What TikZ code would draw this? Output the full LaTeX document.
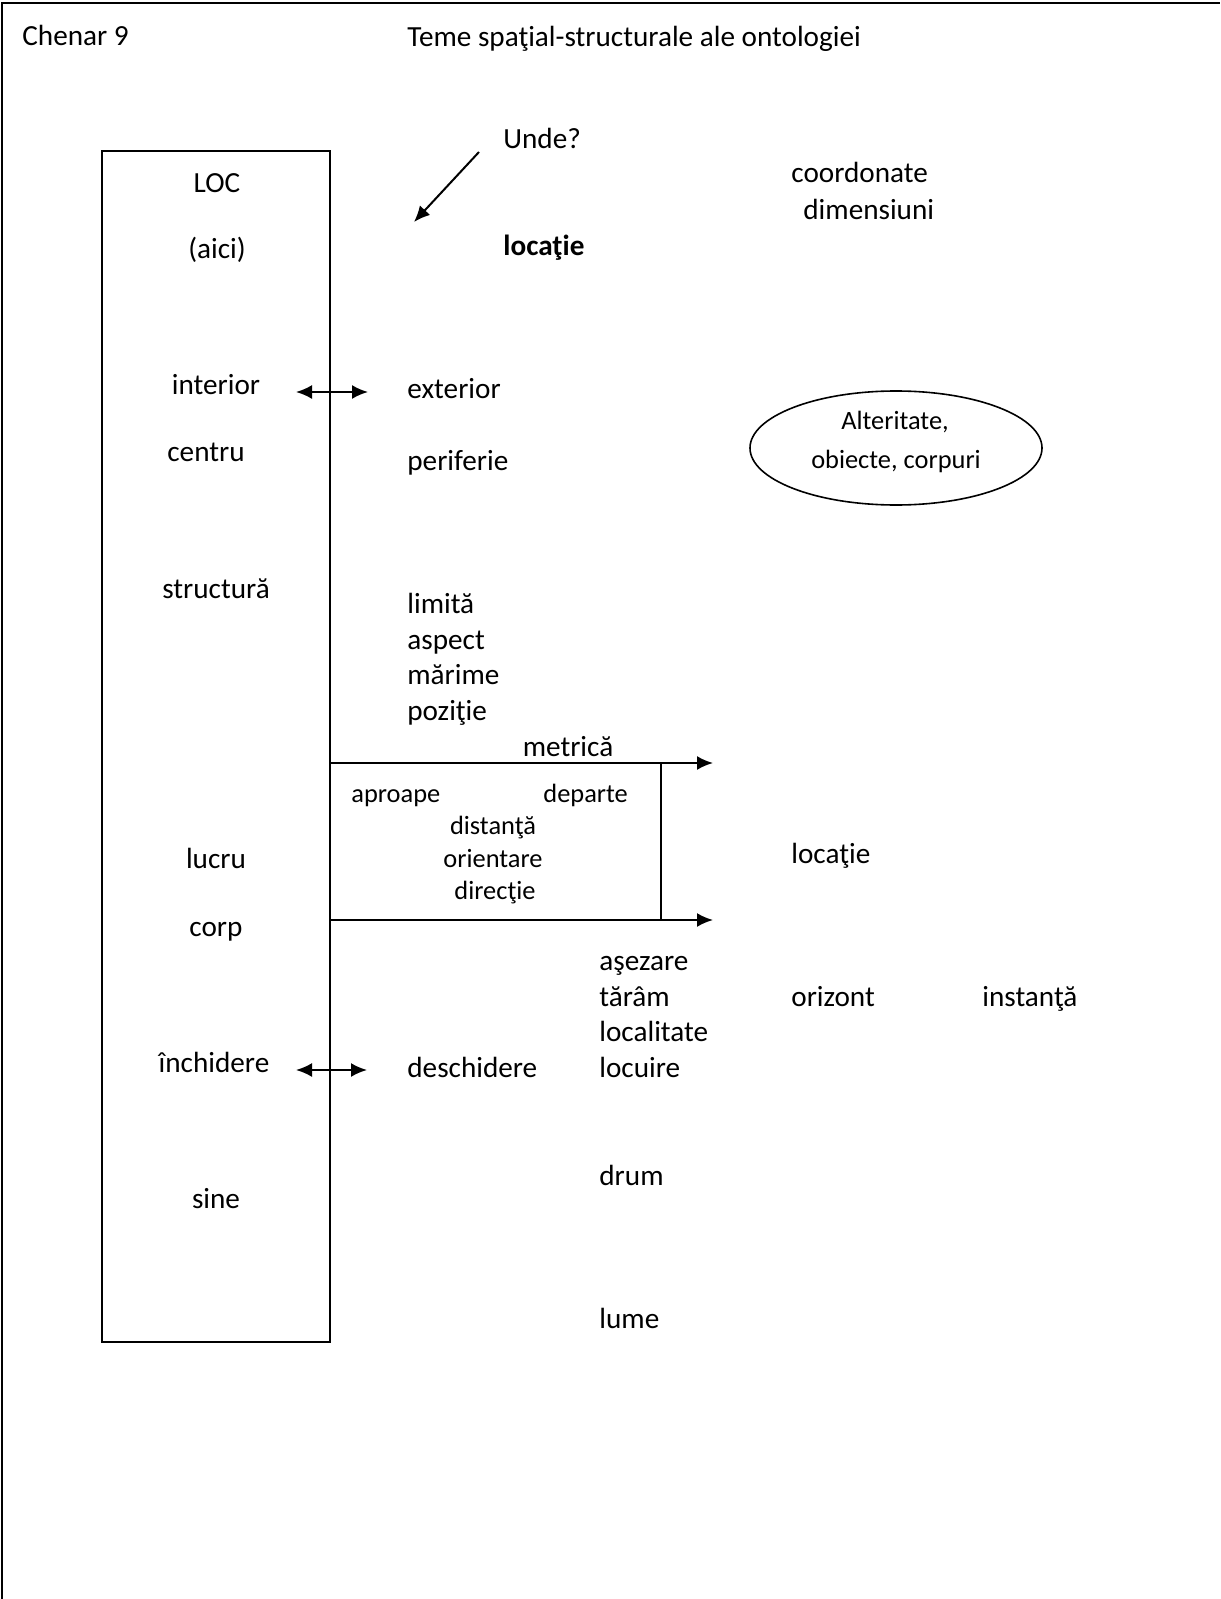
\documentclass[tikz,border=0pt]{standalone}
\usepackage{fontspec}
\setmainfont{Carlito}
\usetikzlibrary{arrows.meta,shapes.geometric}

\tikzset{
  word/.style={inner sep=0pt,text height=0.95em,text depth=0pt,font=\fontsize{14.6}{17}\selectfont},
  small/.style={inner sep=0pt,text height=0.9em,text depth=0pt,font=\fontsize{13.2}{15.5}\selectfont},
  tip/.style={-{Latex[length=8pt,width=7pt]},line width=1pt},
  twotip/.style={{Latex[length=8pt,width=7pt]}-{Latex[length=8pt,width=7pt]},line width=1pt}
}

\begin{document}
\begin{tikzpicture}[x=0.5pt,y=-0.5pt]

  \useasboundingbox (0,0) rectangle (1220,1599);

  % outer frame, open at the bottom
  \draw [line width=1.2pt] (2,1599) -- (2,3) -- (1220,3);

  % heading
  \node [word,anchor=west] (chenar) at (22,36) {Chenar 9};
  \node [word,anchor=west] (titlu) at (407,37) {Teme spaţial-structurale ale ontologiei};

  % the LOC column
  \node [draw,line width=1pt,minimum width=114pt,minimum height=595.5pt,inner sep=0pt] (loc) at (216,746.5) {};
  \node [word] (locnume) at (217,183) {LOC};
  \node [word] (aici) at (217,249) {(aici)};
  \node [word] (interior) at (216,385) {interior};
  \node [word] (centru) at (206,452) {centru};
  \node [word] (structura) at (216,589) {structură};
  \node [word] (lucru) at (216,859) {lucru};
  \node [word] (corp) at (216,927) {corp};
  \node [word] (inchidere) at (214,1063) {închidere};
  \node [word] (sine) at (216,1199) {sine};

  % where?
  \node [word,anchor=west] (unde) at (503,139) {Unde?};
  \node [word,anchor=west,font=\fontsize{14.6}{17}\selectfont\bfseries] (locatie) at (503,246) {locaţie};
  \coordinate (u0) at (479,152);
  \coordinate (u1) at (414,222);
  \draw [tip] (u0) -- (u1);

  \node [word,anchor=west] (coord) at (791,173) {coordonate};
  \node [word,anchor=west] (dim) at (803,210) {dimensiuni};

  % inside / outside
  \coordinate (i0) at (296,392);
  \coordinate (i1) at (368,392);
  \draw [twotip] (i0) -- (i1);
  \node [word,anchor=west] (exterior) at (407,389) {exterior};
  \node [word,anchor=west] (periferie) at (407,461) {periferie};

  % the others
  \node [ellipse,draw,line width=0.8pt,minimum width=146pt,minimum height=57pt,inner sep=0pt] (alter) at (896,448) {};
  \node [small] (alter1) at (895,420) {Alteritate,};
  \node [small] (alter2) at (896,459) {obiecte, corpuri};

  % structure words
  \foreach \w [count=\i from 0] in {limită,aspect,mărime,poziţie}
    \node [word,anchor=west] (s\i) at (407,604+35.6*\i) {\w};

  % metric block
  \node [word] (metrica) at (568,747) {metrică};
  \coordinate (mtop) at (661,763);
  \coordinate (mbot) at (661,920);
  \draw [line width=0.8pt] (loc.east |- mtop) -- (mtop) -- (mbot) -- (loc.east |- mbot);
  \coordinate (atop0) at (640,763);
  \coordinate (atop1) at (713,763);
  \coordinate (abot0) at (640,920);
  \coordinate (abot1) at (713,920);
  \draw [tip] (atop0) -- (atop1);
  \draw [tip] (abot0) -- (abot1);

  \node [small,anchor=west] (aproape) at (351,793) {aproape};
  \node [small,anchor=west] (departe) at (543,793) {departe};
  \node [small] (distanta) at (493,825) {distanţă};
  \node [small] (orientare) at (493,858) {orientare};
  \node [small] (directie) at (495,890) {direcţie};

  \node [word,anchor=west] (locatie2) at (791,854) {locaţie};

  % settling
  \foreach \w [count=\i from 0] in {aşezare,tărâm,localitate,locuire}
    \node [word,anchor=west] (a\i) at (599,961+35.6*\i) {\w};
  \node [word,anchor=west] (orizont) at (791,997) {orizont};
  \node [word,anchor=west] (instanta) at (982,997) {instanţă};

  % closed / open
  \coordinate (c0) at (296,1070);
  \coordinate (c1) at (367,1070);
  \draw [twotip] (c0) -- (c1);
  \node [word,anchor=west] (deschidere) at (407,1068) {deschidere};

  \node [word,anchor=west] (drum) at (599,1176) {drum};
  \node [word,anchor=west] (lume) at (599,1319) {lume};

\end{tikzpicture}
\end{document}
